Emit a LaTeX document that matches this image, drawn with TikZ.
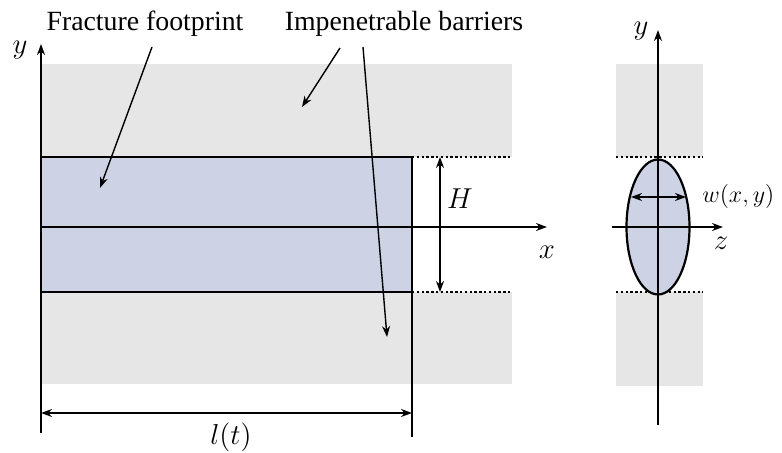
\documentclass[tikz,border=0pt]{standalone}
\usepackage{fontspec}
\setmainfont{Liberation Serif}
\usetikzlibrary{positioning,arrows.meta}
\definecolor{barriergray}{HTML}{E6E6E6}
\definecolor{fracblue}{HTML}{CDD2E4}

\begin{document}
\begin{tikzpicture}[x=0.5pt,y=-0.5pt,
        tip/.style={-{Stealth[length=5.5pt,width=4pt]}},
        axis/.style={line width=0.7pt, tip},
        pointer/.style={line width=0.7pt, tip},
        dimline/.style={line width=0.7pt, {Stealth[length=5.5pt,width=4pt]}-{Stealth[length=5.5pt,width=4pt]}},
        barrier/.style={fill=barriergray, draw=none},
        bound/.style={line width=0.7pt, dash pattern=on 1.2pt off 1.2pt},
        lbl/.style={font=\fontsize{13.9}{16}\selectfont},
        mathlbl/.style={font=\fontsize{14.5}{17}\selectfont}]
        \useasboundingbox (0,0) rectangle (782,453);
        % barriers (plan view and cross-section)
        \fill[barrier] (41,64) rectangle (512,157);
        \fill[barrier] (41,292) rectangle (512,384);
        \fill[barrier] (616,64) rectangle (703,157);
        \fill[barrier] (616,292) rectangle (703,386);
        % fracture footprint
        \draw[line width=1.1pt, fill=fracblue] (41,157) rectangle (412,292);
        \draw[bound] (412,157) -- (512,157);
        \draw[bound] (412,292) -- (512,292);
        \draw[line width=0.7pt] (412,292) -- (412,437);
        % axes of the plan view
        \coordinate (o) at (41,227);
        \draw[axis] (41,433) -- (41,44);
        \node[mathlbl] (ylab) at (20,50) {$y$};
        \draw[axis] (o) -- (547,227);
        \node[mathlbl] (xlab) at (547,252) {$x$};
        % height and length
        \coordinate (htop) at (440,157);
        \coordinate (hbot) at (440,292);
        \draw[dimline] (htop) -- (hbot);
        \node[mathlbl] (hlab) at (460,199) {$H$};
        \coordinate (lleft) at (41,413);
        \coordinate (lright) at (412,413);
        \draw[dimline] (lleft) -- (lright);
        \node[mathlbl] (llab) at (231,437) {$l(t)$};
        % cross-section
        \draw[bound] (616,157) -- (703,157);
        \draw[bound] (616,292) -- (703,292);
        \draw[line width=1.1pt, fill=fracblue] (658,227) ellipse [x radius=31.5, y radius=67.5];
        \draw[axis] (658,425) -- (658,30);
        \node[mathlbl] (ylab2) at (641,31) {$y$};
        \draw[axis] (612,227) -- (723,227);
        \node[mathlbl] (zlab) at (721,243) {$z$};
        \coordinate (wleft) at (631,197);
        \coordinate (wright) at (686,197);
        \draw[dimline] (wleft) -- (wright);
        \node[mathlbl, font=\fontsize{13}{15}\selectfont, anchor=west, inner sep=1pt] (wlab) at (700,197) {$w(x,y)$};
        % labels
        \node[lbl] (ff) at (145,24) {Fracture footprint};
        \node[lbl] (ib) at (404,24) {Impenetrable barriers};
        \coordinate (ffend) at (100,188);
        \coordinate (ibup) at (302,107);
        \coordinate (ibdown) at (387,337);
        \draw[pointer] (152,47) -- (ffend);
        \draw[pointer] (340,48) -- (ibup);
        \draw[pointer] (363,47) -- (ibdown);
\end{tikzpicture}
\end{document}
